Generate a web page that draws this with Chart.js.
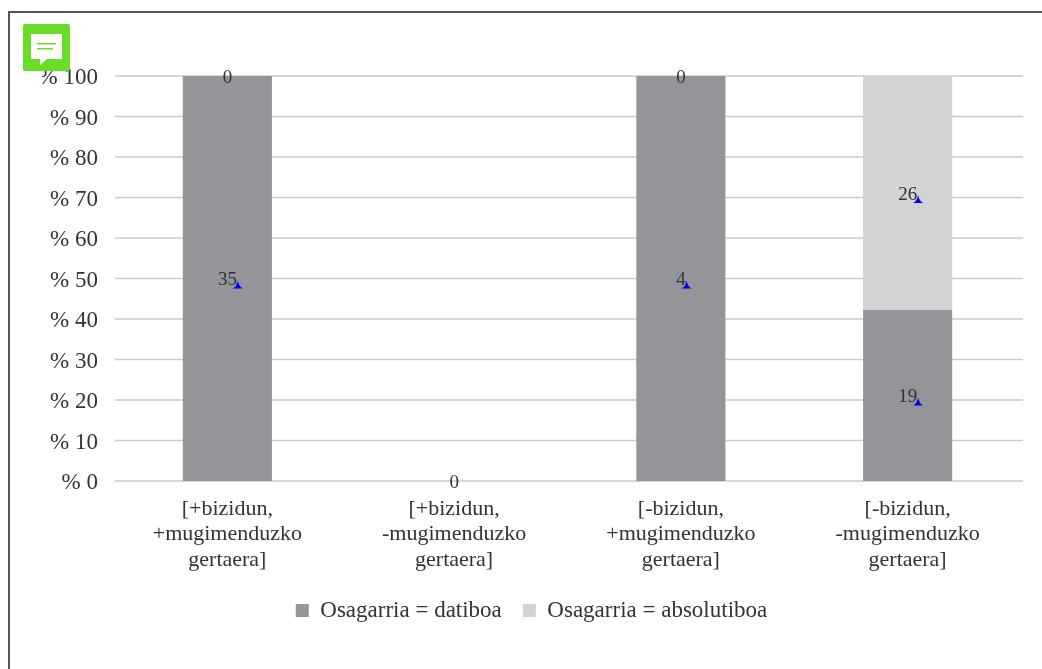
<!DOCTYPE html>
<html>
<head>
<meta charset="utf-8">
<title>Osagarria</title>
<script src="https://cdn.jsdelivr.net/npm/chart.js@4"></script>
<style>
    html, body { margin: 0; padding: 0; background: #fff; overflow: hidden; }
    #marco {
        position: absolute; left: 8px; top: 11px; right: -5px; bottom: -5px;
        border-left: 2px solid #555; border-top: 2px solid #555;
    }
    #caja { position: absolute; left: 21px; top: 13px; width: 1021px; height: 656px; }
    #nota { position: absolute; left: 23px; top: 24px; width: 47px; height: 47px; }
</style>
</head>
<body>
<div id="marco"></div>
<div id="caja"><canvas id="grafico"></canvas></div>

<!-- Icono de comentario -->
<svg id="nota" viewBox="0 0 47 47">
    <rect width="47" height="47" rx="2" fill="#6cdd27"/>
    <path d="M8 10H39V35H24L17 41V35H8Z" fill="#fff"/>
    <rect x="14" y="19" width="19" height="1.5" fill="#6cdd27"/>
    <rect x="14" y="24" width="16" height="1.5" fill="#6cdd27"/>
</svg>

<script>
const categorias = [
    ["[+bizidun,", "+mugimenduzko", "gertaera]"],
    ["[+bizidun,", "-mugimenduzko", "gertaera]"],
    ["[-bizidun,", "+mugimenduzko", "gertaera]"],
    ["[-bizidun,", "-mugimenduzko", "gertaera]"]
];
const datiboa = [35, 0, 4, 19];
const absolutiboa = [0, 0, 0, 26];

const fuente = "'Liberation Serif', serif";
const colorTexto = "#333333";

// Porcentaje de cada columna sobre el total de su categoría
function porcentajes(serie) {
    return serie.map((valor, i) => {
        const total = datiboa[i] + absolutiboa[i];
        return total === 0 ? 0 : (valor / total) * 100;
    });
}

// Las líneas horizontales sobresalen un poco del área de las barras
const lineas = {
    id: "lineas",
    beforeDatasetsDraw(chart) {
        const { ctx, scales: { x, y } } = chart;
        ctx.save();
        ctx.strokeStyle = "#c9cacb";
        ctx.lineWidth = 1.4;
        y.ticks.forEach(tick => {
            const py = y.getPixelForValue(tick.value);
            ctx.beginPath();
            ctx.moveTo(x.left + 1, py);
            ctx.lineTo(x.right + 2, py);
            ctx.stroke();
        });
        ctx.restore();
    }
};

// Cantidades sobre las barras, con su marca azul
const etiquetas = {
    id: "etiquetas",
    afterDatasetsDraw(chart) {
        const { ctx } = chart;
        const series = [datiboa, absolutiboa];
        ctx.save();
        ctx.font = "19px " + fuente;
        ctx.textAlign = "center";
        ctx.textBaseline = "middle";
        series.forEach((serie, d) => {
            const barras = chart.getDatasetMeta(d).data;
            serie.forEach((valor, i) => {
                // Dos ceros en la misma columna se ven como uno
                if (d === 0 && valor === 0) return;
                const px = barras[i].x;
                const py = (barras[i].y + barras[i].base) / 2;
                const texto = String(valor);
                ctx.fillStyle = colorTexto;
                ctx.fillText(texto, px, py + 2);
                if (valor > 0) {
                    const mx = px + ctx.measureText(texto).width / 2 + 1;
                    ctx.fillStyle = "#0000e6";
                    ctx.beginPath();
                    ctx.moveTo(mx, py + 2);
                    ctx.quadraticCurveTo(mx + 1, py + 8, mx + 5, py + 10);
                    ctx.lineTo(mx - 5, py + 10);
                    ctx.quadraticCurveTo(mx - 1, py + 8, mx, py + 2);
                    ctx.fill();
                }
            });
        });
        ctx.restore();
    }
};

new Chart(document.getElementById("grafico"), {
    type: "bar",
    data: {
        labels: categorias,
        datasets: [
            { label: "Osagarria = datiboa", data: porcentajes(datiboa), backgroundColor: "#939598" },
            { label: "Osagarria = absolutiboa", data: porcentajes(absolutiboa), backgroundColor: "#d1d3d4" }
        ]
    },
    options: {
        responsive: true,
        maintainAspectRatio: false,
        animation: false,
        layout: { padding: { top: 63, right: 21, bottom: 37, left: 21 } },
        datasets: { bar: { categoryPercentage: 1, barPercentage: 0.393 } },
        plugins: {
            tooltip: { enabled: false },
            legend: {
                position: "bottom",
                labels: {
                    boxWidth: 13,
                    boxHeight: 13,
                    color: colorTexto,
                    padding: 21,
                    font: { family: fuente, size: 23 }
                }
            }
        },
        scales: {
            x: {
                stacked: true,
                afterFit(escala) { escala.height = 97; },
                grid: { display: false },
                border: { display: false },
                ticks: {
                    color: colorTexto,
                    maxRotation: 0,
                    autoSkip: false,
                    padding: 7,
                    font: { family: fuente, size: 22, lineHeight: 1.16 }
                }
            },
            y: {
                stacked: true,
                min: 0,
                max: 100,
                afterFit(escala) { escala.width = 72; },
                grid: { display: false },
                border: { display: false },
                ticks: {
                    stepSize: 10,
                    color: colorTexto,
                    padding: 8,
                    labelOffset: 2,
                    font: { family: fuente, size: 23 },
                    callback: valor => "% " + valor
                }
            }
        }
    },
    plugins: [lineas, etiquetas]
});
</script>
</body>
</html>
